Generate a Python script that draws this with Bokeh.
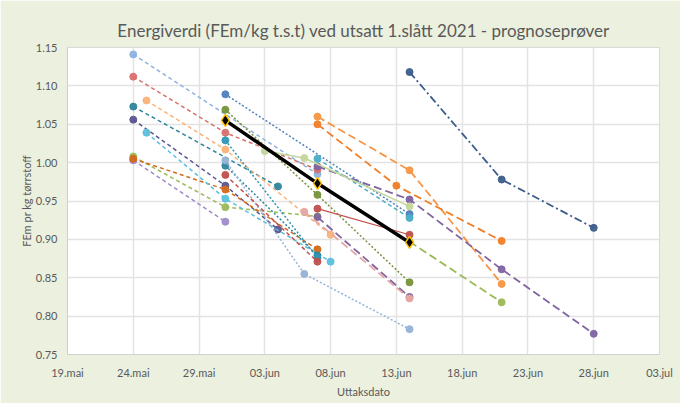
from bokeh.plotting import figure
from bokeh.models import FixedTicker, Range1d, Title
from bokeh.embed import file_html
from bokeh.resources import INLINE
from datetime import date

# ---- data (dates "MM-DD" in 2021, FEm per kg DM) ----
tick_labels = ["19.mai", "24.mai", "29.mai", "03.jun", "08.jun", "13.jun",
               "18.jun", "23.jun", "28.jun", "03.jul"]
y_ticks = [0.75, 0.80, 0.85, 0.90, 0.95, 1.00, 1.05, 1.10, 1.15]

s01_dates = ["05-24", "06-07"];          s01_vals = [1.141, 0.985]
s02_dates = ["05-24", "05-31", "06-07"]; s02_vals = [1.112, 1.039, 0.991]
s03_dates = ["05-24", "06-04"];          s03_vals = [1.073, 0.969]
s04_dates = ["05-24", "05-31", "06-04"]; s04_vals = [1.056, 0.970, 0.913]
s05_dates = ["05-24", "05-31", "06-07"]; s05_vals = [1.008, 0.942, 0.930]
s06_dates = ["05-24", "05-31"];          s06_vals = [1.003, 0.923]
s07_dates = ["05-24", "05-31", "06-07"]; s07_vals = [1.005, 0.965, 0.887]
s08_dates = ["05-25", "05-31", "06-08"]; s08_vals = [1.081, 1.017, 0.906]
s09_dates = ["05-25", "05-31", "06-08"]; s09_vals = [1.039, 0.953, 0.871]
s10_dates = ["05-31", "06-07"];          s10_vals = [0.996, 0.879]
s11_dates = ["05-31", "06-14"];          s11_vals = [1.089, 0.933]
s12_dates = ["05-31", "06-07", "06-14"]; s12_vals = [1.069, 0.958, 0.844]
s13_dates = ["05-31", "06-07"];          s13_vals = [1.029, 0.876]
s14_dates = ["05-31", "06-06", "06-14"]; s14_vals = [1.003, 0.855, 0.783]
s15_dates = ["05-31", "06-07"];          s15_vals = [0.984, 0.871]
s16_dates = ["06-07", "06-14", "06-21"]; s16_vals = [1.060, 0.990, 0.842]
s17_dates = ["06-07", "06-13", "06-21"]; s17_vals = [1.050, 0.970, 0.898]
s18_dates = ["06-07", "06-14", "06-21", "06-28"]; s18_vals = [0.995, 0.952, 0.861, 0.777]
s19_dates = ["06-07", "06-14"];          s19_vals = [1.005, 0.928]
s20_dates = ["06-03", "06-06", "06-14"]; s20_vals = [1.015, 1.006, 0.943]
s21_dates = ["06-14", "06-21"];          s21_vals = [0.897, 0.818]
s22_dates = ["06-07", "06-14"];          s22_vals = [0.940, 0.906]
s23_dates = ["06-07", "06-14"];          s23_vals = [0.929, 0.825]
s24_dates = ["06-06", "06-14"];          s24_vals = [0.936, 0.823]
s25_dates = ["06-14", "06-21", "06-28"]; s25_vals = [1.118, 0.978, 0.915]
mean_dates = ["05-31", "06-07", "06-14"]; mean_vals = [1.055, 0.973, 0.896]

# ---- styles: (color, dash, width) ----
styles = {
    "s01": ("#8db3e2", "4 3", 1.5), "s02": ("#d9706d", "4 3", 1.5),
    "s03": ("#31859c", "4 3", 1.5), "s04": ("#5b5590", "4 3", 1.5),
    "s05": ("#9bbb59", "4 3", 1.5), "s06": ("#a08cc8", "4 3", 1.5),
    "s07": ("#d46a1c", "4 3", 1.5), "s08": ("#fab37a", "4 3", 1.5),
    "s09": ("#5bc0de", "4 3", 1.5), "s10": ("#31859c", "2 2", 1.5),
    "s11": ("#4f81bd", "2 2", 1.5), "s12": ("#77933c", "2 2", 1.5),
    "s13": ("#3096b4", "2 2", 1.5), "s14": ("#95b3d7", "2 2", 1.5),
    "s15": ("#c0504d", "4 3", 1.5), "s16": ("#f79646", "8 4", 1.8),
    "s17": ("#f07f28", "8 4", 1.8), "s18": ("#8064a2", "8 4", 1.8),
    "s19": ("#4bacc6", "4 3", 1.5), "s20": ("#c3d69b", "solid", 1.5),
    "s21": ("#9bbb59", "8 4", 1.8), "s22": ("#c0504d", "solid", 1.2),
    "s23": ("#8064a2", "8 4", 1.8), "s24": ("#e6a6a4", "8 4", 1.8),
    "s25": ("#3d5e8c", "8 3 2 3", 1.8),
}
series = {
    "s01": (s01_dates, s01_vals), "s02": (s02_dates, s02_vals), "s03": (s03_dates, s03_vals),
    "s04": (s04_dates, s04_vals), "s05": (s05_dates, s05_vals), "s06": (s06_dates, s06_vals),
    "s07": (s07_dates, s07_vals), "s08": (s08_dates, s08_vals), "s09": (s09_dates, s09_vals),
    "s10": (s10_dates, s10_vals), "s11": (s11_dates, s11_vals), "s12": (s12_dates, s12_vals),
    "s13": (s13_dates, s13_vals), "s14": (s14_dates, s14_vals), "s15": (s15_dates, s15_vals),
    "s16": (s16_dates, s16_vals), "s17": (s17_dates, s17_vals), "s18": (s18_dates, s18_vals),
    "s19": (s19_dates, s19_vals), "s20": (s20_dates, s20_vals), "s21": (s21_dates, s21_vals),
    "s22": (s22_dates, s22_vals), "s23": (s23_dates, s23_vals), "s24": (s24_dates, s24_vals),
    "s25": (s25_dates, s25_vals),
}

START = date(2021, 5, 19)
def to_day(s):
    m, d = s.split("-")
    return (date(2021, int(m), int(d)) - START).days

FONT = "Lato"
GREY = "#595959"
BG = "#ebf0df"

p = figure(width=680, height=403, output_backend="svg", toolbar_location=None,
           x_range=Range1d(0, 45), y_range=Range1d(0.75, 1.15),
           min_border_left=67, min_border_right=21, min_border_top=47, min_border_bottom=49)
p.title = Title(text="Energiverdi (FEm/kg t.s.t) ved utsatt 1.slått 2021 - prognoseprøver",
                align="center", text_font=FONT, text_font_size="17px",
                text_font_style="normal", text_color=GREY, offset=0, standoff=14)
p.background_fill_color = "white"
p.border_fill_color = BG
p.outline_line_color = "#d9d9d9"

tick_days = [5 * i for i in range(len(tick_labels))]
p.xaxis.ticker = FixedTicker(ticks=tick_days)
p.xaxis.major_label_overrides = {d: lab for d, lab in zip(tick_days, tick_labels)}
p.yaxis.ticker = FixedTicker(ticks=y_ticks)
p.yaxis.major_label_overrides = {v: f"{v:.2f}" for v in y_ticks}
for ax in (p.xaxis[0], p.yaxis[0]):
    ax.major_label_text_font = FONT
    ax.major_label_text_font_size = "11px"
    ax.major_label_text_color = GREY
    ax.axis_label_text_font = FONT
    ax.axis_label_text_font_style = "normal"
    ax.axis_label_text_color = GREY
    ax.axis_label_text_font_size = "11px"
    ax.major_tick_line_color = None
    ax.minor_tick_line_color = None
    ax.major_tick_out = 0
    ax.major_tick_in = 0
    ax.minor_tick_out = 0
    ax.minor_tick_in = 0
p.xaxis.axis_label = "Uttaksdato"
p.yaxis.axis_label = "FEm pr kg tørrstoff"
p.xaxis.axis_line_color = "#d0d0d0"
p.yaxis.axis_line_color = "#d0d0d0"
p.xaxis.major_label_standoff = 11
p.yaxis.major_label_standoff = 10
p.xaxis.axis_label_standoff = 3
p.yaxis.axis_label_standoff = 0
p.grid.grid_line_color = "#e3e3e3"
p.grid.grid_line_width = 1.5

for key, (ds, vs) in series.items():
    color, dash, w = styles[key]
    xs = [to_day(d) for d in ds]
    p.line(xs, vs, line_color=color, line_width=w, line_dash=dash)
    p.scatter(xs, vs, size=7, fill_color=color, line_color=color, alpha=0.95)

mx = [to_day(d) for d in mean_dates]
p.line(mx, mean_vals, line_color="black", line_width=3.5)
p.scatter(mx, mean_vals, marker="diamond", size=12, fill_color="black",
          line_color="#ffc000", line_width=1.5)

open("out.html", "w").write(file_html(p, INLINE))
